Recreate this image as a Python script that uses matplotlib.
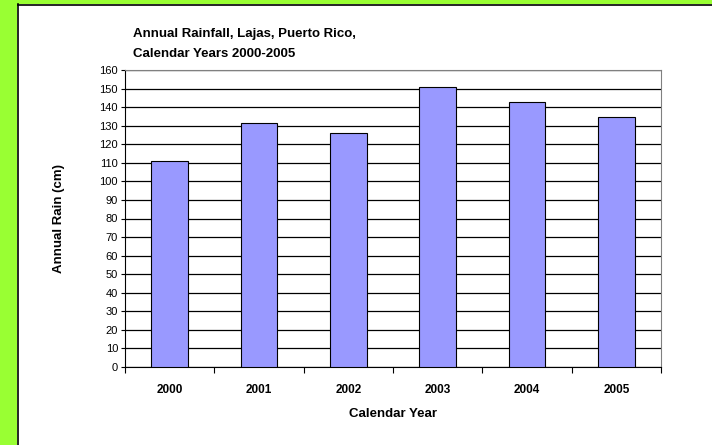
import matplotlib
matplotlib.use("Agg")
import matplotlib.pyplot as plt
from matplotlib.patches import Rectangle
from matplotlib.lines import Line2D

years = ["2000", "2001", "2002", "2003", "2004", "2005"]
rain_cm = [111, 131.5, 126, 151, 142.5, 134.5]
yticks = list(range(0, 161, 10))

plt.rcParams['font.family'] = ['Liberation Sans', 'DejaVu Sans']

W, H = 712, 445
fig = plt.figure(figsize=(W / 100, H / 100), dpi=100)
fig.patch.set_facecolor("white")

# green frame on left and top, with a dark line inside it
green = "#99FF33"
fig.patches.append(Rectangle((0, 0), 17 / W, 1, transform=fig.transFigure,
                             facecolor=green, edgecolor="none", zorder=0))
fig.patches.append(Rectangle((0, 1 - 4 / H), 1, 4 / H, transform=fig.transFigure,
                             facecolor=green, edgecolor="none", zorder=0))
fig.lines.append(Line2D([17.5 / W, 17.5 / W], [0, 1 - 4 / H], transform=fig.transFigure,
                        color="black", lw=1.2))
fig.lines.append(Line2D([17.5 / W, 1], [1 - 4.5 / H, 1 - 4.5 / H], transform=fig.transFigure,
                        color="black", lw=1.2))

ax = fig.add_axes([125 / W, 1 - 367 / H, (661 - 125) / W, (367 - 70) / H])

x = list(range(len(years)))
ax.bar(x, rain_cm, width=0.41, color="#9999FF", edgecolor="black", linewidth=0.8, zorder=3)

ax.set_xlim(-0.5, len(years) - 0.5)
ax.set_ylim(0, 160)
ax.set_yticks(yticks)
ax.set_yticklabels([str(v) for v in yticks], fontsize=8)
ax.yaxis.grid(True, color="black", linewidth=0.9, zorder=0)
ax.set_axisbelow(True)

# ticks at category boundaries, labels in the middle
ax.set_xticks([i - 0.5 for i in range(len(years) + 1)])
ax.set_xticklabels([])
ax.set_xticks(x, minor=True)
ax.set_xticklabels(years, minor=True, fontsize=8.5, fontweight="bold")
ax.tick_params(axis="x", which="minor", length=0, pad=12)
ax.tick_params(axis="x", which="major", length=4, direction="out", width=0.8)
ax.tick_params(axis="y", length=3, direction="out", width=0.8, pad=2)

for side in ["top", "right"]:
    ax.spines[side].set_color("#808080")
for side in ["left", "bottom"]:
    ax.spines[side].set_color("black")

ax.set_xlabel("Calendar Year", fontsize=9.5, fontweight="bold", labelpad=9)
ax.set_ylabel("Annual Rain (cm)", fontsize=9.5, fontweight="bold", labelpad=25)

fig.text(133 / W, 1 - 44 / H, "Annual Rainfall, Lajas, Puerto Rico,\nCalendar Years 2000-2005",
         fontsize=9.5, fontweight="bold", ha="left", va="center", linespacing=1.85)

fig.savefig("out.png", dpi=100)
